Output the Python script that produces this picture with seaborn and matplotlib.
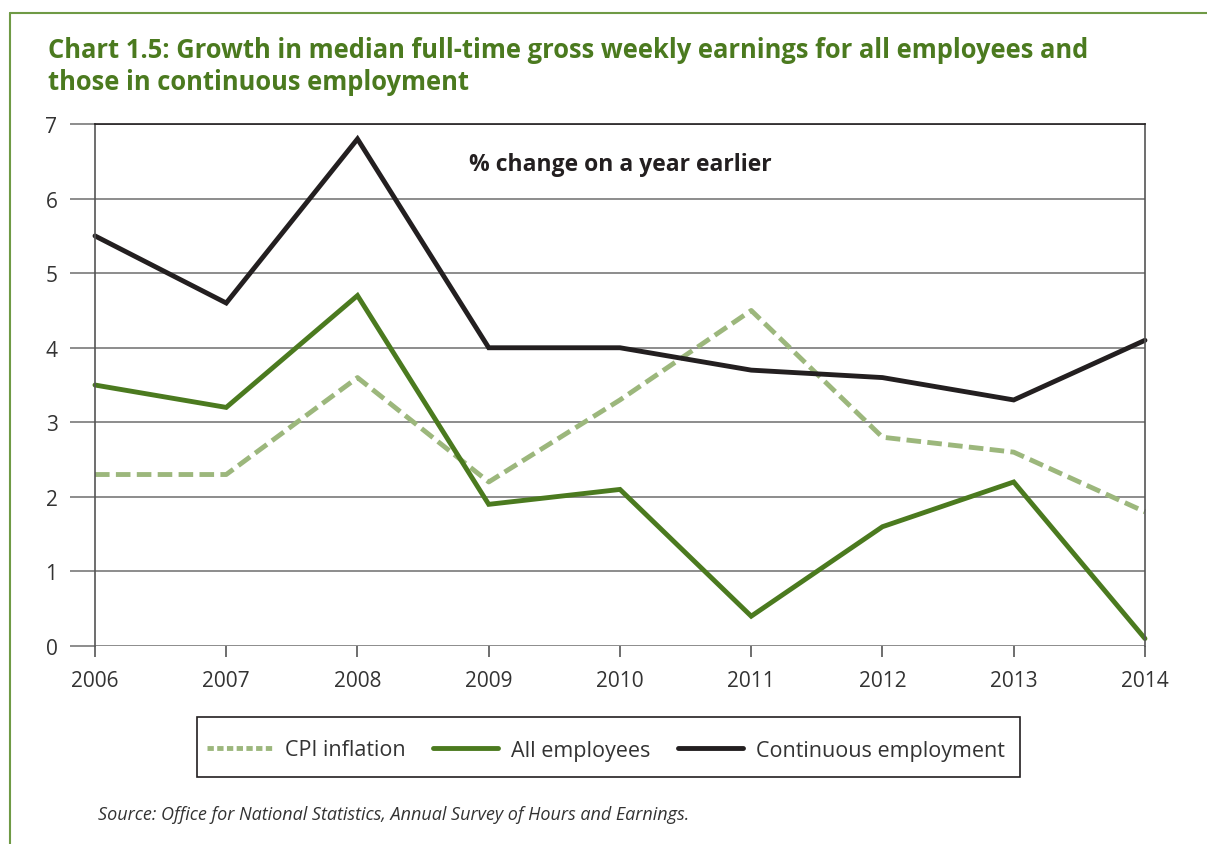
import matplotlib
matplotlib.use("Agg")
import matplotlib.pyplot as plt
import pandas as pd
import seaborn as sns
from matplotlib.lines import Line2D
from matplotlib.patches import Rectangle

years = [2006, 2007, 2008, 2009, 2010, 2011, 2012, 2013, 2014]
cpi_inflation = [2.3, 2.3, 3.6, 2.2, 3.3, 4.5, 2.8, 2.6, 1.8]
all_employees = [3.5, 3.2, 4.7, 1.9, 2.1, 0.4, 1.6, 2.2, 0.1]
continuous_employment = [5.5, 4.6, 6.8, 4.0, 4.0, 3.7, 3.6, 3.3, 4.1]
y_ticks = [0, 1, 2, 3, 4, 5, 6, 7]

GREEN = "#4b7a1f"
LIGHT_GREEN = "#9cb77c"
BLACK = "#231f20"

sns.set_theme(style="white")
plt.rcParams["font.family"] = ["Open Sans", "DejaVu Sans"]

df = pd.DataFrame({
    "year": years,
    "CPI inflation": cpi_inflation,
    "All employees": all_employees,
    "Continuous employment": continuous_employment,
})

fig = plt.figure(figsize=(12.07, 8.45), dpi=100)
ax = fig.add_axes([0.0787, 0.2343, 0.8699, 0.6177])

sns.lineplot(data=df, x="year", y="CPI inflation", ax=ax, color=LIGHT_GREEN,
             lw=3.5, linestyle=(0, (3, 1.3)))
sns.lineplot(data=df, x="year", y="All employees", ax=ax, color=GREEN, lw=3.5)
sns.lineplot(data=df, x="year", y="Continuous employment", ax=ax, color=BLACK, lw=3.5)
for ln in ax.lines:
    ln.set_clip_on(False)
    ln.set_solid_joinstyle("miter")

ax.set_xlim(years[0], years[-1])
ax.set_ylim(0, 7)
ax.set_xticks(years)
ax.set_yticks(y_ticks)
ax.set_xlabel("")
ax.set_ylabel("")
ax.yaxis.grid(True, color="#6d6d6d", lw=1.1)
ax.set_axisbelow(True)
for s in ax.spines.values():
    s.set_color("#555555")
    s.set_linewidth(1.2)
ax.spines["bottom"].set_visible(False)
ax.spines["top"].set_color(BLACK)
ax.tick_params(axis="y", direction="out", length=18, width=1.1, color="#6d6d6d",
               labelsize=15, labelcolor="#333333", pad=9, left=True)
ax.tick_params(axis="x", direction="out", length=8, width=1.2, color="#555555",
               labelsize=15, labelcolor="#333333", pad=9, bottom=True)

ax.text(0.5, 0.924, "% change on a year earlier", transform=ax.transAxes,
        ha="center", va="center", fontsize=16.5, fontweight="bold", color=BLACK)

handles = [
    Line2D([], [], color=LIGHT_GREEN, lw=3.5, linestyle=(0, (1.3, 0.7))),
    Line2D([], [], color=GREEN, lw=3.5),
    Line2D([], [], color=BLACK, lw=3.5),
]
leg = fig.legend(handles, ["CPI inflation", "All employees", "Continuous employment"],
                 loc="center", bbox_to_anchor=(606 / 1207, 1 - 751 / 845), ncol=3,
                 frameon=False, fontsize=15.5, handlelength=3.0,
                 columnspacing=1.3, handletextpad=0.6)
for t in leg.get_texts():
    t.set_color("#333333")
fig.add_artist(Rectangle((197 / 1207, 1 - 778 / 845), 823 / 1207, 60 / 845,
                         transform=fig.transFigure, fill=False,
                         edgecolor=BLACK, lw=1.2))

fig.text(0.0397, 0.921, "Chart 1.5: Growth in median full-time gross weekly earnings for all employees and\nthose in continuous employment",
         ha="left", va="center", fontsize=18.4, fontweight="bold", color=GREEN,
         linespacing=1.25)
fig.text(0.081, 0.0355, "Source: Office for National Statistics, Annual Survey of Hours and Earnings.",
         ha="left", va="center", fontsize=13, style="italic", color="#333333")

# green frame (left and top edges)
fig.add_artist(Line2D([0.0083, 0.0083], [0.0, 0.9834], transform=fig.transFigure,
                      color="#6f9a45", lw=1.5))
fig.add_artist(Line2D([0.0083, 1.0], [0.9834, 0.9834], transform=fig.transFigure,
                      color="#6f9a45", lw=1.5))

fig.savefig("out.png", dpi=100)
